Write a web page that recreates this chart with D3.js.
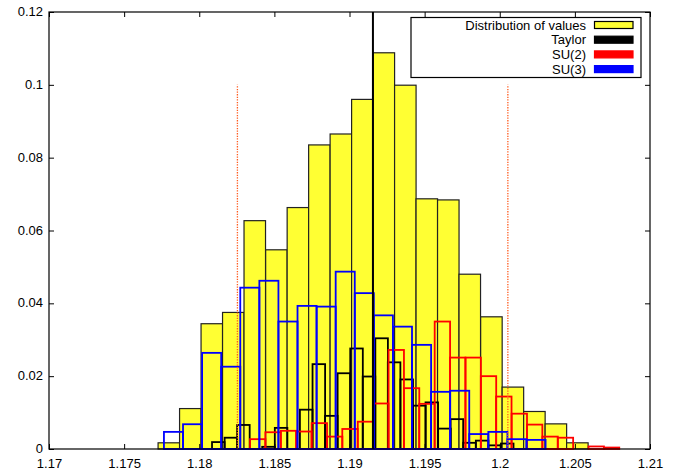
<!DOCTYPE html>
<html>
<head>
<meta charset="utf-8">
<script src="https://cdn.jsdelivr.net/npm/d3@7"></script>
<style>
  html, body { margin: 0; padding: 0; background: #fff; }
  svg { display: block; }
  text { font-family: "Liberation Sans", Arial, Helvetica, sans-serif; }
</style>
</head>
<body>
<svg id="chart" width="683" height="475"></svg>
<script>
// ---------- data ----------
const xTickValues = [1.17, 1.175, 1.18, 1.185, 1.19, 1.195, 1.2, 1.205, 1.21];
const xTickLabels = ["1.17", "1.175", "1.18", "1.185", "1.19", "1.195", "1.2", "1.205", "1.21"];
const yTickValues = [0, 0.02, 0.04, 0.06, 0.08, 0.1, 0.12];
const yTickLabels = ["0", "0.02", "0.04", "0.06", "0.08", "0.1", "0.12"];

const seriesNames = ["Distribution of values", "Taylor", "SU(2)", "SU(3)"];

// Distribution of values (yellow filled histogram)
const distBinWidth = 0.001431;
const distBinLeft = [1.17726, 1.17869, 1.18012, 1.18155, 1.18298, 1.18442, 1.18585, 1.18728, 1.18871, 1.19014,
                     1.19157, 1.19300, 1.19443, 1.19586, 1.19729, 1.19873, 1.20016, 1.20159, 1.20302, 1.20445];
const distValues = [0.0017, 0.0111, 0.0344, 0.0375, 0.0627, 0.0547, 0.0663, 0.0835, 0.0865, 0.0960,
                    0.1088, 0.0999, 0.0687, 0.0684, 0.0480, 0.0363, 0.0170, 0.0103, 0.0069, 0.0017];

// Taylor (black outline histogram)
const taylorBinWidth = 0.000836;
const taylorBinLeft = [1.18085, 1.18169, 1.18252, 1.18336, 1.18419, 1.18503, 1.18587, 1.18670, 1.18754, 1.18837,
                       1.18921, 1.19005, 1.19088, 1.19172, 1.19255, 1.19339, 1.19423, 1.19506, 1.19590, 1.19673,
                       1.19757, 1.19841, 1.19924, 1.20008];
const taylorValues = [0.0019, 0.0031, 0.0066, 0.0000, 0.0006, 0.0058, 0.0000, 0.0108, 0.0233, 0.0091,
                      0.0208, 0.0276, 0.0199, 0.0304, 0.0238, 0.0191, 0.0119, 0.0128, 0.0056, 0.0082,
                      0.0017, 0.0023, 0.0010, 0.0015];
const taylorValue = 1.19156;

// SU(2) (red outline histogram)
const su2BinWidth = 0.001024;
const su2BinLeft = [1.18338, 1.18440, 1.18543, 1.18645, 1.18748, 1.18850, 1.18952, 1.19055, 1.19157, 1.19260,
                    1.19362, 1.19464, 1.19567, 1.19669, 1.19772, 1.19874, 1.19976, 1.20079, 1.20181, 1.20284,
                    1.20386, 1.20488, 1.20591, 1.20693, 1.20796, 1.20898];
const su2Values = [0.0027, 0.0046, 0.0050, 0.0048, 0.0071, 0.0034, 0.0055, 0.0075, 0.0125, 0.0272,
                   0.0167, 0.0124, 0.0350, 0.0251, 0.0251, 0.0200, 0.0144, 0.0097, 0.0067, 0.0034,
                   0.0031, 0.0000, 0.0007, 0.0004, 0.0000, 0.0000];

// SU(3) (blue outline histogram)
const su3BinWidth = 0.00127;
const su3BinLeft = [1.17257, 1.17384, 1.17511, 1.17638, 1.17765, 1.17892, 1.18019, 1.18146, 1.18273, 1.18400,
                    1.18527, 1.18654, 1.18781, 1.18908, 1.19035, 1.19162, 1.19289, 1.19416, 1.19543, 1.19670,
                    1.19797, 1.19924, 1.20051, 1.20178];
const su3Values = [0.0000, 0.0000, 0.0000, 0.0000, 0.0047, 0.0068, 0.0264, 0.0226, 0.0443, 0.0462,
                   0.0350, 0.0393, 0.0391, 0.0487, 0.0428, 0.0367, 0.0336, 0.0286, 0.0157, 0.0160,
                   0.0041, 0.0047, 0.0027, 0.0025];

// dotted interval lines
const intervalBounds = [1.18254, 1.20054];
const intervalHeight = 0.1;

// ---------- drawing ----------
const W = 683, H = 475;
const margin = { left: 49, right: 33, top: 12, bottom: 26 };
const svg = d3.select("#chart");
svg.append("rect").attr("width", W).attr("height", H).attr("fill", "#fff");

const x = d3.scaleLinear().domain([1.17, 1.21]).range([margin.left, W - margin.right]);
const y = d3.scaleLinear().domain([0, 0.12]).range([H - margin.bottom, margin.top]);

const plot = svg.append("g");

function drawHist(left, values, width, fill, stroke, sw) {
  const data = left.map((l, i) => ({ l, v: values[i] }));
  plot.append("g").selectAll("rect").data(data).join("rect")
    .attr("x", d => x(d.l))
    .attr("y", d => y(d.v))
    .attr("width", d => x(d.l + width) - x(d.l))
    .attr("height", d => y(0) - y(d.v))
    .attr("fill", fill)
    .attr("stroke", stroke)
    .attr("stroke-width", sw);
}

drawHist(distBinLeft, distValues, distBinWidth, "#ffff33", "#222", 1.2);
drawHist(taylorBinLeft, taylorValues, taylorBinWidth, "none", "#000", 1.8);
drawHist(su2BinLeft, su2Values, su2BinWidth, "none", "#ff0000", 1.8);
drawHist(su3BinLeft, su3Values, su3BinWidth, "none", "#0000ff", 1.8);

// dotted interval lines
plot.append("g").selectAll("line").data(intervalBounds).join("line")
  .attr("x1", d => x(d)).attr("x2", d => x(d))
  .attr("y1", y(0)).attr("y2", y(intervalHeight))
  .attr("stroke", "#ff5a1e")
  .attr("stroke-width", 1.3)
  .attr("stroke-dasharray", "1.3,1.3");

// Taylor vertical line
plot.append("line")
  .attr("x1", x(taylorValue)).attr("x2", x(taylorValue))
  .attr("y1", y(0)).attr("y2", y(0.12))
  .attr("stroke", "#000").attr("stroke-width", 2);

// axes
const fontSize = 13;
const xAxisB = d3.axisBottom(x).tickValues(xTickValues)
  .tickFormat((d, i) => xTickLabels[i]).tickSizeInner(-5).tickSizeOuter(0).tickPadding(9.5);
const gxb = svg.append("g").attr("transform", `translate(0,${y(0)})`).call(xAxisB);
const xAxisT = d3.axisTop(x).tickValues(xTickValues).tickFormat("").tickSizeInner(-5).tickSizeOuter(0);
const gxt = svg.append("g").attr("transform", `translate(0,${y(0.12)})`).call(xAxisT);
const yAxisL = d3.axisLeft(y).tickValues(yTickValues)
  .tickFormat((d, i) => yTickLabels[i]).tickSizeInner(-5).tickSizeOuter(0).tickPadding(6);
const gyl = svg.append("g").attr("transform", `translate(${x(1.17)},0)`).call(yAxisL);
const yAxisR = d3.axisRight(y).tickValues(yTickValues).tickFormat("").tickSizeInner(-5).tickSizeOuter(0);
const gyr = svg.append("g").attr("transform", `translate(${x(1.21)},0)`).call(yAxisR);

[gxb, gxt, gyl, gyr].forEach(g => {
  g.select(".domain").remove();
  g.selectAll(".tick line").attr("stroke", "#000").attr("stroke-width", 1);
  g.selectAll("text").attr("font-size", fontSize).attr("fill", "#000")
    .attr("font-family", '"Liberation Sans", Arial, Helvetica, sans-serif');
});
gyl.selectAll("text").attr("dy", "0.28em");

// frame
svg.append("rect")
  .attr("x", x(1.17)).attr("y", y(0.12))
  .attr("width", x(1.21) - x(1.17)).attr("height", y(0) - y(0.12))
  .attr("fill", "none").attr("stroke", "#000").attr("stroke-width", 1.2);

// legend
const legend = svg.append("g");
const lgX0 = 411, lgY0 = 17.5, lgW = 230, lgH = 60;
legend.append("rect").attr("x", lgX0).attr("y", lgY0).attr("width", lgW).attr("height", lgH)
  .attr("fill", "#fff").attr("stroke", "#000").attr("stroke-width", 1.2);
const legendFill = ["#ffff33", "#000", "#ff0000", "#0000ff"];
const legendStroke = ["#000", "#000", "#ff0000", "#0000ff"];
seriesNames.forEach((name, i) => {
  const cy = 25 + i * 14.7;
  legend.append("text")
    .attr("x", 586).attr("y", cy).attr("dy", "0.35em")
    .attr("text-anchor", "end").attr("font-size", fontSize).attr("fill", "#000")
    .text(name);
  legend.append("rect")
    .attr("x", 594.5).attr("y", cy - 3.5).attr("width", 38.5).attr("height", 7)
    .attr("fill", legendFill[i]).attr("stroke", legendStroke[i]).attr("stroke-width", 1.2);
});
</script>
</body>
</html>
